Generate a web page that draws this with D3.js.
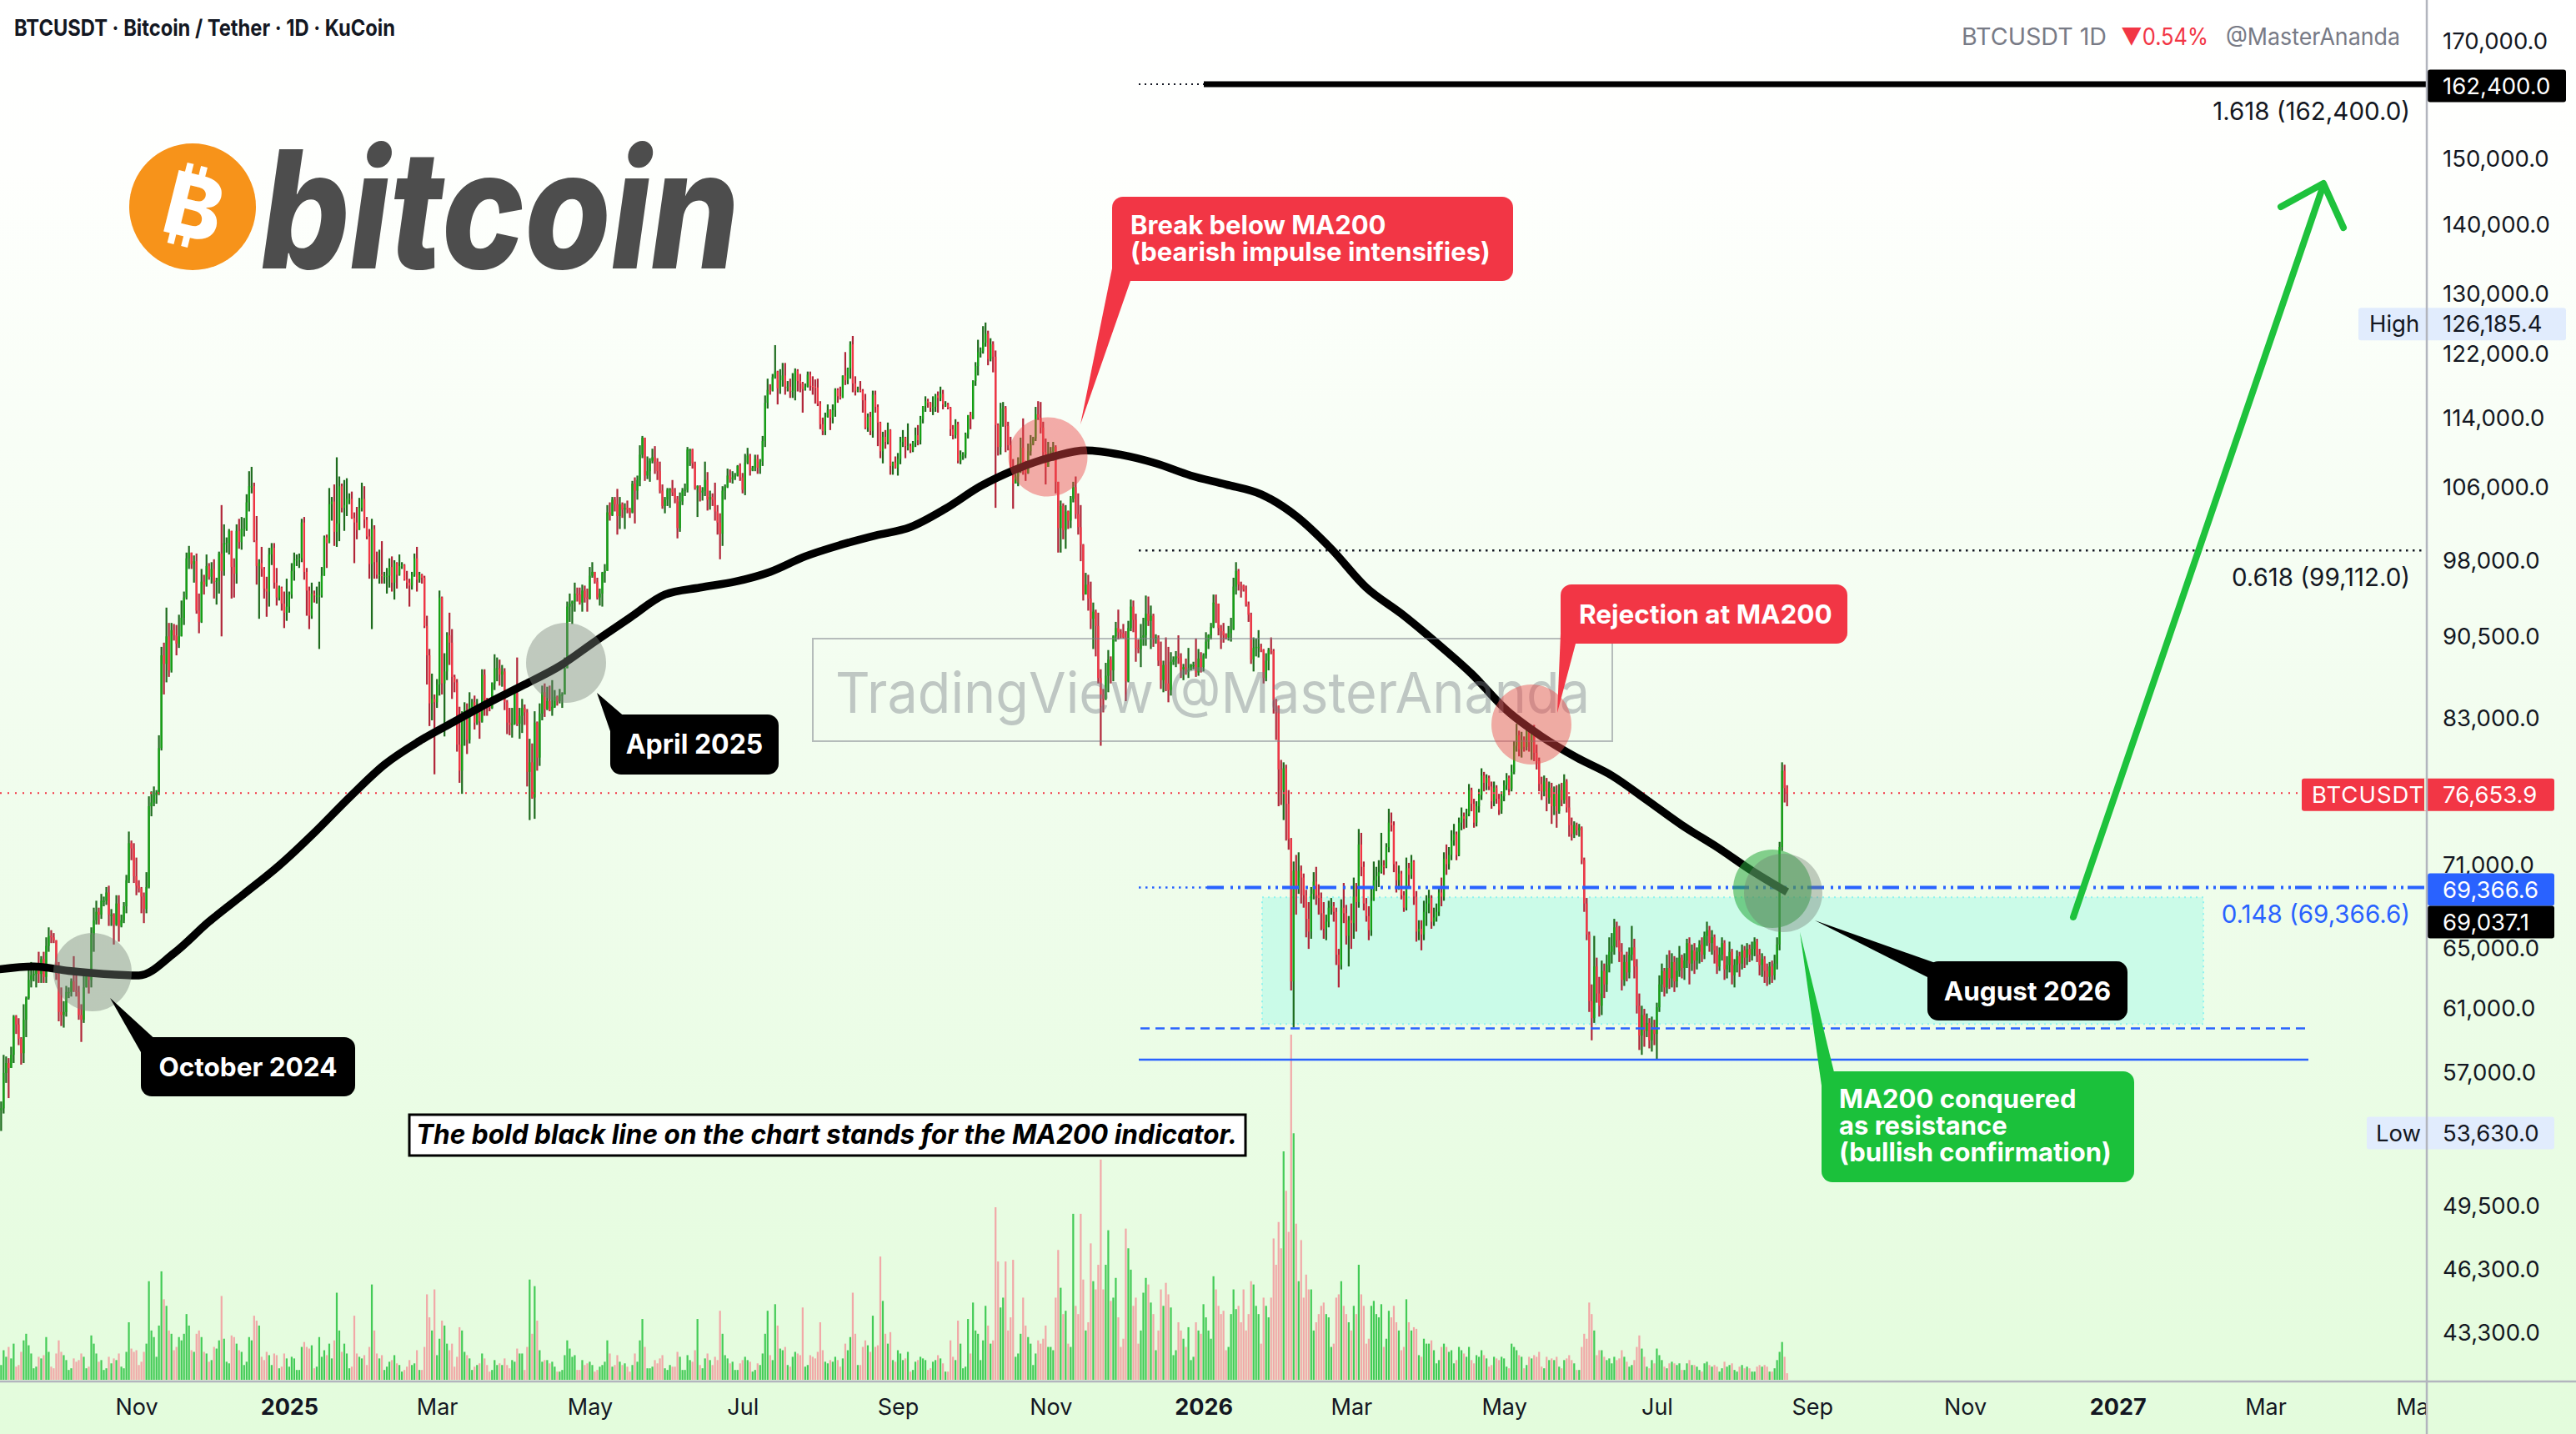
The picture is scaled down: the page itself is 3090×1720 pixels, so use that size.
<!DOCTYPE html>
<html>
<head>
<meta charset="utf-8">
<title>BTCUSDT 1D - MA200</title>
<script src="https://cdn.jsdelivr.net/npm/d3@7/dist/d3.min.js"></script>
<style>
html,body{margin:0;padding:0;overflow:hidden;background:#fff}
svg{display:block}
text{font-family:Inter,"Noto Sans",Roboto,sans-serif}
</style>
</head>
<body>
<svg id="chart" width="3090" height="1720" viewBox="0 0 3090 1720"></svg>
<script>
// ================= DATA (prices in thousands of USDT, daily candles) =================
const firstDay = "2024-09-08";
const firstOpen = 54.8;
const closes = [
54.9,57.0,57.6,57.3,58.1,60.5,60.0,59.1,58.2,60.3,61.7,62.9,63.2,63.3,63.6,63.3,64.3,63.1,65.2,65.9,65.8,65.6,63.3,
60.8,60.6,60.8,62.1,62.1,62.8,62.2,62.1,60.6,60.3,62.4,63.2,62.9,66.0,67.0,67.6,67.4,68.4,68.4,69.0,67.4,67.4,66.7,68.2,66.6,67.0,68.0,69.9,72.7,72.3,70.2,
69.5,69.3,68.7,67.8,69.4,75.6,75.9,76.5,76.7,80.4,88.7,87.9,90.5,87.3,91.1,90.6,89.8,90.5,92.3,94.3,98.3,98.9,97.7,98.0,93.0,91.9,95.9,95.6,97.5,96.4,
97.2,95.9,96.0,98.8,97.0,99.9,99.9,101.2,97.4,96.7,101.2,100.0,101.4,101.4,104.3,106.1,106.1,100.2,97.5,97.8,97.2,95.2,94.9,98.7,99.4,95.8,94.3,95.3,93.7,92.8,93.4,
94.6,97.0,98.1,98.2,98.3,102.1,96.9,95.0,92.5,94.7,94.5,94.5,94.5,96.5,100.5,99.9,104.1,104.4,101.1,102.0,106.1,103.7,104.0,104.7,104.7,102.6,102.1,101.3,103.7,104.7,102.4,
100.6,97.7,101.4,97.9,96.6,96.6,96.5,96.5,96.5,97.4,95.8,97.8,96.6,97.5,97.6,96.1,95.8,95.5,96.6,98.3,96.1,96.6,96.3,91.5,88.7,84.3,84.7,84.4,
86.0,94.3,86.1,87.2,90.6,89.9,86.7,86.2,80.7,78.5,82.9,83.7,81.1,84.0,84.4,82.6,84.1,82.7,86.9,84.2,84.1,83.9,86.1,87.5,87.5,86.9,87.2,84.4,82.6,82.4,82.5,
85.2,82.5,83.2,83.9,83.5,78.4,79.2,76.3,82.6,79.6,83.4,85.3,83.8,84.5,83.7,84.0,84.9,84.5,85.1,85.1,87.5,93.4,93.7,93.9,94.7,94.6,93.8,95.0,94.3,94.2,
96.5,96.9,95.9,94.3,94.7,96.8,97.0,103.2,102.9,104.6,104.1,102.8,104.1,103.5,103.7,103.5,103.2,106.4,105.6,106.8,109.7,111.7,107.3,107.8,109.0,109.4,108.9,107.8,105.6,103.9,104.6,
105.7,105.8,105.4,104.7,101.5,104.4,105.6,105.7,110.3,110.3,108.7,105.9,106.1,105.4,105.6,106.8,104.6,104.9,104.6,103.3,102.1,100.9,105.6,106.0,107.3,106.9,107.1,107.3,108.4,107.1,
105.7,108.8,109.6,107.9,108.2,109.2,108.2,108.9,111.3,115.9,117.5,117.4,119.1,119.8,117.7,118.7,119.3,117.9,117.9,117.3,117.4,119.9,118.6,118.3,117.6,117.9,119.4,118.0,117.9,117.8,115.8,
113.3,112.5,114.2,115.0,114.1,115.0,117.5,116.7,116.5,119.3,118.7,120.2,123.3,118.3,117.4,117.5,117.4,116.2,112.9,114.2,112.5,116.9,115.4,113.5,110.1,111.8,111.2,112.6,108.4,108.8,108.2,
109.2,111.2,111.7,110.7,110.7,110.2,111.1,112.0,111.4,113.9,115.5,116.1,115.9,115.3,115.4,116.8,116.5,117.0,115.7,115.7,115.3,112.7,112.0,113.3,109.0,109.7,109.7,112.1,114.4,114.0,
118.6,120.5,122.3,122.4,123.5,124.7,121.4,123.3,121.7,113.2,110.6,115.2,115.3,113.1,110.8,108.2,106.4,107.2,108.7,110.5,108.5,107.6,110.1,111.0,111.6,114.5,114.1,112.9,110.0,108.3,109.6,
110.1,110.6,106.6,101.5,103.9,101.3,103.3,102.3,104.7,106.0,103.0,101.6,99.7,94.6,95.6,94.2,92.2,92.9,91.5,86.6,85.1,84.7,86.8,88.3,87.3,90.5,91.3,90.9,90.8,90.4,
86.3,91.3,93.4,92.1,89.4,89.3,90.4,90.6,92.7,92.0,92.5,90.3,90.4,88.2,86.4,87.8,86.1,85.5,88.1,88.3,88.6,88.5,87.4,87.6,87.2,87.3,87.8,87.8,87.1,88.4,87.6,
88.7,90.0,90.6,91.4,93.8,93.7,91.3,91.0,90.6,90.4,90.8,91.2,95.4,97.0,95.6,95.5,95.1,93.6,92.6,88.3,89.4,89.5,89.5,89.2,86.6,88.2,89.2,89.1,84.6,84.1,78.6,
76.9,78.7,75.8,73.0,62.8,70.6,69.3,70.6,70.1,68.8,67.1,66.2,68.9,69.8,68.8,68.6,67.5,66.4,66.9,67.9,68.0,67.6,64.6,63.9,67.9,67.5,65.9,67.0,
66.8,68.7,68.3,72.6,70.9,68.2,67.3,66.3,68.4,69.9,70.2,70.5,71.0,70.9,72.4,74.3,74.1,71.1,69.9,70.4,68.8,67.9,70.8,70.3,71.3,68.7,66.2,66.4,66.0,67.6,68.2,
68.6,66.9,67.2,67.6,69.0,68.7,71.5,71.1,71.8,72.9,73.4,71.8,74.3,74.8,74.6,75.0,76.9,75.8,74.3,75.6,76.5,78.1,77.5,77.9,77.2,76.0,77.1,76.2,75.3,76.4,
77.3,77.9,77.0,78.4,80.6,81.5,80.3,81.1,80.5,81.9,80.9,81.7,80.0,79.3,77.4,76.8,77.6,76.3,77.1,75.6,76.6,75.2,76.9,76.1,77.6,75.5,74.1,73.4,74.1,73.7,73.9,
71.4,68.2,66.0,61.5,60.4,63.8,62.0,61.2,63.5,62.6,63.9,64.8,65.2,66.5,65.6,64.8,62.9,64.1,63.4,64.6,65.1,63.8,61.2,59.3,60.6,59.6,60.1,59.0,59.8,59.4,
61.1,62.6,63.5,62.4,63.7,63.0,64.1,62.8,63.5,64.4,63.7,64.2,65.4,64.0,64.9,64.2,64.8,65.3,64.6,65.9,66.3,65.4,65.8,64.9,63.8,64.6,65.4,63.6,63.9,64.8,63.2,
63.9,64.5,64.0,64.9,64.4,65.0,64.6,65.0,65.5,64.6,63.9,64.3,63.5,63.1,63.8,63.2,64.0,65.3,72.4,78.5,77.07,76.6539
];
const highs = [
55.3,58.1,58.0,57.9,58.6,60.6,60.6,60.4,59.2,61.3,61.8,63.8,64.1,63.6,64.0,64.8,64.5,64.8,65.8,66.5,66.3,66.1,65.6,
64.1,62.4,61.5,62.5,62.4,63.0,64.5,63.2,62.5,61.3,63.4,63.5,63.3,66.5,67.9,68.4,67.9,68.9,68.7,69.4,69.5,67.8,67.5,68.8,68.8,67.4,68.3,70.3,73.6,72.9,72.7,
71.6,69.9,69.4,69.0,70.5,76.4,76.8,77.2,76.9,81.5,89.5,89.9,93.3,91.8,91.8,91.7,91.6,92.6,94.0,94.9,98.9,99.6,98.8,98.6,98.8,94.7,97.2,96.6,98.7,97.8,
97.9,98.2,96.3,99.0,104.0,101.9,100.5,101.4,101.2,98.3,101.9,102.5,102.7,102.6,105.2,107.8,108.3,106.5,102.8,98.2,99.5,97.4,96.4,99.4,99.9,99.9,97.3,95.5,95.4,94.9,96.2,
94.9,97.8,98.9,98.7,98.8,102.5,102.7,97.3,95.4,95.8,95.0,95.4,95.9,97.4,100.7,100.8,105.9,104.9,106.3,109.4,107.2,106.4,106.8,107.0,105.3,105.5,103.2,103.8,104.8,106.5,106.1,
102.7,101.4,102.5,101.8,99.0,99.2,100.1,96.9,97.3,98.3,98.5,98.1,97.9,98.7,97.9,97.7,97.0,96.2,96.9,98.8,99.5,96.9,96.7,96.5,92.5,89.3,87.0,85.1,
86.5,95.0,94.4,88.9,90.9,92.8,91.2,86.9,86.5,84.0,83.6,84.4,84.3,85.3,84.7,85.0,84.7,84.0,87.4,87.4,84.8,84.5,86.2,88.8,88.5,88.3,87.8,87.5,84.6,83.9,83.9,
85.5,88.5,83.9,84.7,84.2,83.8,81.2,80.8,83.6,82.7,84.3,85.9,86.1,85.8,85.9,86.4,85.5,85.0,85.6,85.3,88.5,93.9,94.7,94.0,95.8,95.3,95.3,95.6,95.5,95.2,
97.4,97.9,96.9,96.3,95.2,96.9,97.7,104.0,104.3,104.9,104.9,105.8,104.9,104.3,104.2,104.5,103.7,106.7,107.1,107.3,110.8,111.9,111.3,109.5,109.3,110.4,110.7,109.3,108.9,106.3,104.9,
105.9,105.9,106.8,105.9,105.0,105.4,105.9,106.4,110.6,110.4,110.4,108.9,106.2,106.2,106.0,108.9,107.7,105.6,105.3,106.5,104.0,103.1,106.1,106.3,108.1,108.0,107.8,107.6,108.5,108.7,
107.6,109.8,110.5,109.8,108.4,109.7,109.7,109.2,111.9,116.8,118.9,118.2,119.5,123.2,119.9,120.1,120.9,120.9,118.6,118.9,119.6,120.2,120.1,119.5,118.5,118.3,119.8,119.8,119.2,118.8,118.9,
116.1,114.1,114.7,115.7,115.1,115.7,117.7,117.7,117.9,119.3,122.3,120.3,123.7,124.4,119.2,117.9,118.6,117.6,117.0,114.6,114.8,117.4,117.4,115.7,113.6,112.4,112.6,113.5,112.7,108.9,109.5,
109.9,111.8,112.6,111.8,113.4,111.0,111.3,112.9,113.2,114.3,115.5,116.7,116.4,116.0,116.7,117.0,117.3,117.9,117.5,116.1,115.9,115.4,113.2,113.9,113.6,110.2,110.0,112.3,114.4,114.8,
118.7,121.0,123.9,122.9,125.7,126.1854,125.1,124.1,123.7,122.5,113.4,115.9,116.0,115.5,113.6,111.8,109.2,107.5,109.4,111.7,114.0,109.0,111.0,112.0,111.8,115.4,116.1,116.0,113.6,111.6,111.2,
110.6,111.2,110.8,106.6,104.5,104.2,104.0,103.4,105.0,106.6,107.2,105.3,104.0,99.8,96.8,96.6,95.9,93.8,93.1,92.8,87.4,85.6,88.0,89.2,88.6,90.6,91.9,93.1,91.2,91.7,
91.0,92.0,94.1,94.0,92.7,90.2,91.7,92.3,94.5,94.4,93.5,92.7,90.7,90.6,90.0,88.2,90.4,89.5,89.0,88.6,89.1,90.6,88.9,87.9,88.4,89.4,87.9,88.1,90.3,89.3,89.0,
88.9,90.9,90.7,91.8,94.6,94.6,93.7,91.6,91.8,90.8,91.5,92.3,96.3,97.9,97.2,95.9,95.6,95.5,93.9,92.8,90.4,90.3,91.1,89.8,89.3,88.9,89.4,90.4,89.3,84.7,84.1,
79.4,79.2,79.0,76.9,73.1,71.3,71.8,72.0,71.0,70.4,69.2,68.3,69.4,70.5,70.9,69.6,69.0,68.3,67.4,68.4,68.6,68.3,67.9,65.0,68.5,69.7,68.1,67.3,
68.2,70.1,69.7,73.8,73.5,71.3,68.6,68.0,69.3,71.3,70.9,71.4,73.5,71.4,72.7,75.4,75.1,74.4,71.3,71.0,70.6,69.1,71.6,71.2,71.8,71.4,69.1,67.0,67.0,68.4,68.8,
69.2,68.8,67.9,68.2,69.3,70.1,72.0,72.6,72.4,73.7,74.2,73.6,74.7,75.5,75.1,75.4,77.4,77.1,76.2,76.0,77.0,78.7,78.4,78.2,78.1,77.6,77.6,77.3,76.6,76.8,
77.7,78.3,78.1,79.0,81.0,82.5,81.9,81.8,81.4,82.6,82.3,82.1,82.4,80.7,79.6,78.0,78.1,77.9,77.6,77.5,77.2,77.3,77.4,77.5,78.2,77.8,76.4,74.7,74.4,74.3,74.2,
74.0,71.6,68.6,66.2,62.6,65.9,64.4,63.1,64.2,64.0,64.6,65.8,66.1,67.1,66.9,66.6,65.4,64.6,64.8,65.1,66.6,65.7,64.3,62.0,61.2,61.0,60.7,60.4,60.5,60.3,
61.4,63.2,64.0,63.7,64.6,64.9,64.7,64.5,64.4,65.2,64.6,64.7,65.7,65.8,65.3,65.4,65.1,65.6,65.8,66.2,66.9,66.6,66.3,66.0,65.2,65.1,65.8,65.6,64.5,65.5,65.0,
64.3,64.9,64.8,65.3,65.2,65.4,65.3,65.5,65.8,65.7,65.0,64.7,64.5,64.0,64.1,64.2,64.6,65.8,72.8,79.2,79.0,77.3
];
const lows = [
53.6,54.6,56.4,55.5,57.3,57.6,59.4,58.7,57.5,57.6,59.2,61.6,62.4,62.8,62.4,62.7,62.7,62.7,62.7,64.8,65.4,65.4,62.9,
60.2,59.9,59.8,60.5,61.7,61.8,62.1,61.8,60.3,58.9,60.1,62.4,62.0,62.4,64.8,66.7,66.7,67.1,68.0,68.1,66.6,66.6,65.3,66.6,65.5,66.5,66.8,67.5,69.7,71.4,69.7,
68.8,69.0,67.5,66.8,67.5,69.3,74.8,75.6,75.8,76.5,80.2,85.1,86.2,86.7,87.1,90.1,88.7,89.4,90.8,91.6,94.1,97.2,97.2,95.8,92.7,90.8,91.8,94.6,95.4,96.1,
95.7,94.2,93.6,94.7,90.5,96.5,98.9,98.7,94.2,94.3,95.7,99.3,99.2,100.6,101.2,103.3,105.3,100.0,95.6,92.2,96.4,94.2,92.4,93.4,97.6,95.2,93.5,94.0,93.0,91.3,92.0,
92.8,94.2,96.0,97.5,97.3,97.9,96.1,92.5,91.2,92.2,93.8,93.7,89.3,94.3,96.5,97.3,99.9,102.3,99.6,99.5,100.1,103.2,101.2,102.8,104.1,102.5,97.8,100.3,101.3,103.3,101.5,
100.3,96.2,91.2,96.2,96.2,95.7,95.7,95.7,94.7,95.3,94.9,94.1,95.2,96.5,97.2,96.0,95.2,93.4,95.1,96.4,94.9,95.8,95.7,91.3,86.0,82.3,82.8,78.2,
83.9,85.0,85.1,81.4,86.4,87.8,84.7,85.3,80.1,77.5,76.6,80.6,79.9,80.8,83.6,82.0,82.4,81.2,82.6,83.2,83.2,83.6,83.8,85.5,86.3,85.9,85.8,83.7,81.6,81.5,81.3,
82.4,82.3,81.2,81.7,82.4,77.2,74.5,76.2,74.6,78.5,78.9,82.8,83.1,83.7,83.6,83.2,83.9,84.1,84.3,83.9,85.1,87.6,91.9,91.7,92.9,93.9,93.6,92.9,93.8,92.9,
94.1,96.3,95.7,94.1,93.5,93.4,95.8,97.0,102.3,102.8,103.3,100.8,101.4,102.6,101.4,103.1,102.6,103.1,102.0,104.6,106.1,109.3,106.7,106.9,106.6,108.7,107.5,106.8,105.3,103.6,103.1,
103.9,103.7,105.0,104.2,100.4,101.1,104.0,105.0,105.4,108.4,108.1,105.7,102.7,104.4,104.5,105.0,103.4,103.5,103.9,102.3,100.8,98.2,99.6,104.6,105.9,106.5,106.4,106.8,107.2,106.7,
105.3,105.1,108.6,107.3,107.8,107.8,107.5,107.5,108.4,110.6,115.2,116.9,117.3,118.9,115.7,117.0,117.9,116.9,117.3,116.5,116.5,116.2,117.3,117.2,114.7,117.4,117.8,117.4,116.9,115.8,115.5,
112.7,112.0,112.0,114.1,112.6,113.4,114.2,115.9,116.3,116.5,118.1,118.2,118.9,117.2,116.8,117.2,117.2,114.7,112.7,112.4,112.0,111.7,114.7,110.7,109.3,108.7,110.4,110.9,107.4,107.4,108.1,
107.3,108.6,110.6,109.3,110.2,109.9,110.0,110.6,110.8,110.9,113.4,114.8,115.3,114.8,114.4,114.8,114.7,116.1,115.1,115.4,115.1,111.9,111.5,111.6,108.7,108.6,109.1,109.3,111.6,112.7,
113.9,118.0,119.3,121.6,122.1,123.0,120.6,121.1,119.7,103.7,109.6,109.7,113.0,110.0,110.2,107.5,103.6,106.4,106.1,107.6,107.4,106.7,107.5,109.6,110.8,111.3,113.8,112.2,109.2,106.3,108.6,
109.4,109.0,105.3,98.9,98.9,100.3,99.3,101.4,101.5,104.3,102.5,100.8,98.0,94.0,94.6,93.0,91.2,89.3,88.6,86.1,80.6,83.5,84.6,85.3,86.1,86.3,90.0,90.2,90.3,90.3,
84.5,86.2,91.0,90.9,88.1,88.9,87.6,89.6,89.6,91.5,89.3,89.5,89.8,87.7,85.6,85.3,85.4,84.4,85.0,87.8,87.6,87.9,86.6,86.4,86.9,86.6,87.3,87.4,86.7,86.8,87.1,
87.2,88.4,89.3,90.2,91.3,91.8,90.6,89.3,89.9,90.2,90.1,90.0,91.1,94.6,95.0,94.3,94.9,93.4,91.9,87.9,87.2,88.6,88.5,89.0,86.1,86.3,87.3,88.8,83.4,81.1,75.6,
75.7,74.5,72.9,72.2,62.2,59.8,67.4,68.9,68.2,67.9,65.8,65.0,65.7,68.5,68.1,67.4,66.3,65.7,65.6,66.5,67.4,66.9,63.9,62.4,63.6,66.8,65.3,63.8,
65.0,65.7,66.2,67.9,70.2,67.7,66.9,65.6,65.9,68.8,69.1,69.4,70.4,70.3,70.8,72.0,73.6,70.5,69.0,69.2,68.5,67.6,67.7,69.4,70.0,68.1,65.5,65.6,64.9,65.6,66.6,
67.5,66.4,66.6,66.9,67.3,68.0,68.4,70.3,70.7,71.4,72.5,71.4,71.7,73.7,73.8,73.9,74.8,75.2,73.9,74.0,75.1,76.1,76.8,76.9,76.9,75.4,75.6,75.8,74.9,75.0,
76.0,76.9,76.5,76.8,78.2,80.1,79.7,79.6,80.1,80.2,80.1,79.4,79.3,78.6,76.8,76.1,76.4,75.2,75.8,74.2,74.9,73.9,75.0,75.6,75.8,75.1,73.2,72.9,73.1,73.3,73.2,
71.1,67.6,65.6,60.8,59.0,60.1,61.4,60.5,60.6,61.7,62.1,63.4,64.0,64.6,65.1,64.1,62.2,62.5,62.8,63.0,64.2,63.0,60.7,58.4,58.1,58.6,59.2,58.5,58.3,58.7,
57.8,60.8,62.1,61.8,62.0,62.3,62.4,62.1,62.4,63.1,63.0,62.9,63.7,62.6,63.5,63.3,63.6,64.0,64.1,64.3,65.2,64.8,64.6,64.0,63.3,63.5,64.2,62.9,63.0,63.4,62.6,
62.4,63.4,63.1,63.6,63.7,63.9,64.1,64.2,64.5,64.1,63.2,63.1,62.7,62.5,62.6,62.7,62.9,63.6,64.9,72.1,75.9,75.6
];
const volumes = [
9,18,14,20,13,22,8,9,17,24,28,21,16,7,8,14,13,15,26,17,8,7,16,
24,17,15,12,6,7,13,11,12,16,14,7,8,27,22,16,11,12,6,7,14,10,13,12,16,8,7,17,35,19,17,
18,9,11,17,22,60,30,26,14,33,66,49,45,30,28,18,20,26,24,28,40,33,18,17,28,30,26,17,16,11,
12,20,19,24,51,25,11,10,27,26,22,18,17,9,11,26,24,39,36,33,14,12,17,15,9,16,15,7,8,16,13,
8,14,13,6,6,20,23,20,19,21,7,8,26,14,18,15,22,13,24,53,30,17,22,16,7,8,39,16,14,13,15,
9,20,58,30,16,13,15,6,8,11,12,15,10,9,5,6,8,12,9,10,18,6,6,20,52,38,30,55,
15,25,36,33,22,18,22,8,14,32,30,17,15,13,6,8,9,10,16,13,9,5,6,12,9,10,9,13,9,7,12,
11,19,16,16,6,20,61,28,57,36,18,11,12,12,10,11,8,5,5,6,15,24,19,14,15,6,6,12,9,10,
11,9,5,6,8,9,11,24,16,8,9,15,11,9,10,8,5,9,16,11,24,37,20,7,7,8,12,10,13,15,7,
6,9,8,8,17,14,6,6,15,12,11,18,37,9,7,13,16,12,9,14,12,42,28,15,13,10,11,6,6,10,
12,14,12,11,5,6,10,9,16,28,42,15,12,46,33,19,18,20,9,8,14,17,16,15,44,8,9,15,14,13,17,
35,18,11,10,12,11,14,12,8,13,22,18,26,53,28,9,9,20,24,21,17,39,20,21,75,48,28,22,29,12,11,
18,16,12,13,17,5,6,11,12,14,13,12,6,7,11,12,15,13,10,5,5,24,14,12,36,22,7,8,37,16,
47,30,28,12,24,45,33,22,24,105,72,44,50,72,30,38,73,14,16,28,50,33,26,22,9,16,24,22,25,33,20,
20,18,50,79,56,40,42,22,20,101,45,40,101,61,30,35,83,60,55,70,134,55,70,91,48,50,62,38,20,25,
92,80,67,45,50,22,30,53,62,58,47,40,18,30,55,45,59,52,44,15,18,35,30,25,20,32,12,14,35,30,28,
46,38,30,25,63,55,45,40,42,18,20,40,55,43,45,35,55,30,40,60,58,45,40,22,50,45,38,50,86,70,96,
80,139,115,90,210,150,95,60,85,50,64,55,55,30,35,40,45,47,40,38,20,22,50,52,60,45,40,35,
30,45,40,70,52,45,22,25,45,48,40,38,46,20,25,42,38,45,35,30,18,20,49,35,30,32,31,15,14,25,22,
22,24,18,10,12,20,22,20,17,18,10,12,20,18,16,14,20,12,10,15,14,18,15,13,8,9,14,13,12,14,
13,8,7,22,20,18,15,14,7,9,14,13,15,14,17,8,7,14,12,13,12,14,8,7,12,13,15,12,10,6,6,
20,28,25,47,40,30,15,18,18,14,12,13,10,14,12,13,18,14,11,8,9,12,20,27,19,14,8,7,12,10,
19,15,12,8,7,10,11,10,9,10,6,6,10,12,9,9,8,6,5,10,11,9,8,9,8,5,7,11,8,9,10,
6,5,8,9,7,8,7,5,5,8,9,8,9,8,5,5,7,12,17,23,14,4
];
// MA200 indicator values, one every 14 days from maFirstDay
const maFirstDay = "2024-09-07";
const maStepDays = 14;
const ma200 = [
63.6,63.8,63.5,63.3,63.2,64.7,66.9,68.9,71.0,73.5,76.3,79.0,81.0,82.7,84.4,86.0,87.7,90.0,92.3,94.6,
95.3,95.9,96.9,98.5,99.7,100.7,101.6,103.6,106.1,108.0,109.4,110.2,109.7,108.7,107.3,106.3,105.2,102.8,99.3,95.3,
92.7,89.9,87.0,83.7,81.4,79.6,78.1,76.1,74.1,72.4,70.6,69.0371
];
const priceTicks = [170,150,140,130,122,114,106,98,90.5,83,71,65,61,57,49.5,46.3,43.3];
const timeTickDates = ["2024-11-01","2025-01-01","2025-03-01","2025-05-01","2025-07-01","2025-09-01","2025-11-01","2026-01-01","2026-03-01","2026-05-01","2026-07-01","2026-09-01","2026-11-01","2027-01-01","2027-03-01","2027-05-01"];
const timeTickLabels = ["Nov","2025","Mar","May","Jul","Sep","Nov","2026","Mar","May","Jul","Sep","Nov","2027","Mar","May"];
const fibRatios = [1.618, 0.618, 0.148];
const fibPrices = [162.4, 99.112, 69.3666];
const maLastValue = 69.0371;
const highValue = 126.1854;
const lowValue = 53.63;
const supportDashed = 59.75;
const supportSolid = 57.8;
const rangeBox = [60.03, 68.65];

// ================= SETUP =================
const W = 3090, H = 1720, PR = 2911, AX = 1657, VB = 1655;
const svg = d3.select("#chart");
const parse = d3.utcParse("%Y-%m-%d");
const x = d3.scaleUtc().domain([parse("2024-11-01"), parse("2027-01-01")]).range([163.6, 2540.3]);
const y = d3.scaleLog().domain([43.3, 170]).range([1598.2, 49.3]);
const yv = d3.scaleLinear().domain([0, 210]).range([VB, VB - 414]);
const fmt = d3.format(",.1f");
const money = v => fmt(v * 1000);
const FONT = "Inter, 'Noto Sans', Roboto, sans-serif";
const AXF = 27.5;

const day0 = parse(firstDay);
const candles = closes.map((c, i) => ({
  t: d3.utcDay.offset(day0, i), o: i ? closes[i - 1] : firstOpen,
  h: highs[i], l: lows[i], c: c, v: volumes[i]
}));
const lastC = candles[candles.length - 1];
const changePct = (lastC.c - lastC.o) / lastC.o * 100;

const defs = svg.append("defs");
const grad = defs.append("linearGradient").attr("id", "bg").attr("x1", 0).attr("y1", 0).attr("x2", 0).attr("y2", 1);
[["0%", "#ffffff"], ["12%", "#fefffd"], ["50%", "#f2fdef"], ["100%", "#e3fcdc"]].forEach(s =>
  grad.append("stop").attr("offset", s[0]).attr("stop-color", s[1]));
defs.append("clipPath").attr("id", "plotClip").append("rect").attr("x", 0).attr("y", 0).attr("width", PR).attr("height", AX);
defs.append("clipPath").attr("id", "xClip").append("rect").attr("x", 0).attr("y", AX).attr("width", PR).attr("height", H - AX);

svg.append("rect").attr("width", W).attr("height", H).attr("fill", "url(#bg)");

const plot = svg.append("g").attr("clip-path", "url(#plotClip)");

// range box (cyan)
plot.append("rect").attr("x", 1514).attr("width", 2643 - 1514)
  .attr("y", y(rangeBox[1])).attr("height", y(rangeBox[0]) - y(rangeBox[1]))
  .attr("fill", "#c6fbe8").attr("fill-opacity", 0.9)
  .attr("stroke", "#8ff3ee").attr("stroke-width", 2).attr("stroke-dasharray", "2,5");

// volume
plot.append("g").selectAll("rect").data(candles).join("rect")
  .attr("x", d => x(d.t) - 1.1).attr("width", 2.2)
  .attr("y", d => yv(d.v)).attr("height", d => VB - yv(d.v))
  .attr("fill", d => d.c >= d.o ? "#2cc443" : "#f29c9f").attr("fill-opacity", 0.88);

// candles
const gC = plot.append("g");
gC.selectAll("rect.w").data(candles).join("rect").attr("class", "w")
  .attr("x", d => x(d.t) - 1.1).attr("width", 2.2)
  .attr("y", d => y(Math.max(d.h, d.o, d.c)))
  .attr("height", d => Math.max(1, y(Math.min(d.l, d.o, d.c)) - y(Math.max(d.h, d.o, d.c))))
  .attr("fill", d => d.c >= d.o ? "#1e6c1e" : "#b12639");
gC.selectAll("rect.b").data(candles).join("rect").attr("class", "b")
  .attr("x", d => x(d.t) - 1.1).attr("width", 2.2)
  .attr("y", d => y(Math.max(d.o, d.c)))
  .attr("height", d => Math.max(1.5, y(Math.min(d.o, d.c)) - y(Math.max(d.o, d.c))))
  .attr("fill", d => d.c >= d.o ? "#14a114" : "#f23645");

// horizontal levels
const hl = (x0, x1, yy, color, w, dash) => {
  const l = plot.append("line").attr("x1", x0).attr("x2", x1).attr("y1", yy).attr("y2", yy)
    .attr("stroke", color).attr("stroke-width", w);
  if (dash) l.attr("stroke-dasharray", dash);
  return l;
};
hl(0, 2761, y(lastC.c), "#f23645", 2, "2,7");
hl(1366, 1444, y(fibPrices[0]), "#131722", 2, "2,5");
hl(1444, PR, y(fibPrices[0]), "#000", 7);
hl(1366, PR, y(fibPrices[1]), "#131722", 2.5, "2.5,5.5");
hl(1366, 1448, y(fibPrices[2]), "#2962ff", 2.5, "2.5,5.5");
hl(1448, PR, y(fibPrices[2]), "#2962ff", 4, "20,8,3,6,3,5");
hl(1368, 2769, y(supportDashed), "#2962ff", 2.5, "11,7");
hl(1366, 2769, y(supportSolid), "#2962ff", 2.5);

// MA200 line
const maDay0 = parse(maFirstDay);
const maPts = ma200.map((v, i) => ({ t: d3.utcDay.offset(maDay0, i * maStepDays), v }));
plot.append("path").datum(maPts)
  .attr("d", d3.line().x(d => x(d.t)).y(d => y(d.v)).curve(d3.curveMonotoneX))
  .attr("fill", "none").attr("stroke", "#000").attr("stroke-width", 9.5).attr("stroke-linejoin", "round");

// watermark
svg.append("rect").attr("x", 975).attr("y", 766).attr("width", 959).attr("height", 123)
  .attr("fill", "none").attr("stroke", "rgba(120,123,134,0.5)").attr("stroke-width", 2);
svg.append("text").attr("x", 1002).attr("y", 855).attr("font-size", 68).attr("font-family", FONT)
  .attr("textLength", 905).attr("lengthAdjust", "spacingAndGlyphs")
  .attr("fill", "rgba(120,123,134,0.42)").text("TradingView @MasterAnanda");

// circles
const circles = [
  [111, 1166, 47, "rgba(120,128,120,0.42)"],
  [679, 795, 48, "rgba(120,128,120,0.42)"],
  [1257, 548, 47.5, "rgba(235,70,70,0.45)"],
  [1837, 869, 48, "rgba(235,70,70,0.45)"],
  [2126, 1066, 47, "rgba(40,170,60,0.55)"],
  [2139, 1071, 47, "rgba(110,120,110,0.38)"]
];
svg.append("g").selectAll("circle").data(circles).join("circle")
  .attr("cx", d => d[0]).attr("cy", d => d[1]).attr("r", d => d[2]).attr("fill", d => d[3]);

// green arrow
const gA = svg.append("g").attr("stroke", "#1ec23c").attr("stroke-width", 8).attr("stroke-linecap", "round")
  .attr("stroke-linejoin", "round").attr("fill", "none");
gA.append("line").attr("x1", 2487).attr("y1", 1100).attr("x2", 2787).attr("y2", 222);
gA.append("polyline").attr("points", "2736,248 2787,220 2811,273");

// callouts
const callouts = [
  { box: [1334, 236, 1815, 337], fill: "#f23645", wedge: [[1296, 509], [1334, 322], [1356, 337]],
    lines: ["Break below MA200", "(bearish impulse intensifies)"], tx: 1356, ty: [280.5, 313], size: 31, anchor: "start" },
  { box: [1872, 701, 2216, 772], fill: "#f23645", wedge: [[1868, 855], [1872, 760], [1890, 772]],
    lines: ["Rejection at MA200"], tx: 1894, ty: [748], size: 31.5, anchor: "start" },
  { box: [169, 1244, 426, 1315], fill: "#000", wedge: [[132, 1197], [190, 1250], [169, 1262]],
    lines: ["October 2024"], tx: 297.5, ty: [1291], size: 31.5, anchor: "middle" },
  { box: [732, 857, 934, 929], fill: "#000", wedge: [[716, 831], [752, 862], [732, 877]],
    lines: ["April 2025"], tx: 833, ty: [904], size: 32, anchor: "middle" },
  { box: [2312, 1153, 2552, 1224], fill: "#000", wedge: [[2177, 1104], [2330, 1158], [2312, 1172]],
    lines: ["August 2026"], tx: 2432, ty: [1200], size: 31.5, anchor: "middle" },
  { box: [2185, 1285, 2560, 1418], fill: "#1bc13b", wedge: [[2159, 1118], [2201, 1290], [2185, 1302]],
    lines: ["MA200 conquered", "as resistance", "(bullish confirmation)"], tx: 2206, ty: [1329, 1361, 1393], size: 31, anchor: "start" }
];
const gCall = svg.append("g");
callouts.forEach(c => {
  const g = gCall.append("g");
  g.append("polygon").attr("points", c.wedge.map(p => p.join(",")).join(" ")).attr("fill", c.fill);
  g.append("rect").attr("x", c.box[0]).attr("y", c.box[1]).attr("width", c.box[2] - c.box[0])
    .attr("height", c.box[3] - c.box[1]).attr("rx", 13).attr("fill", c.fill);
  c.lines.forEach((s, i) => g.append("text").attr("x", c.tx).attr("y", c.ty[i]).attr("font-size", c.size)
    .attr("font-weight", 700).attr("font-family", FONT).attr("fill", "#fff").attr("text-anchor", c.anchor).text(s));
});

// note box
svg.append("rect").attr("x", 491).attr("y", 1337).attr("width", 1003).attr("height", 49)
  .attr("fill", "#fff").attr("stroke", "#000").attr("stroke-width", 3);
svg.append("text").attr("x", 499).attr("y", 1372).attr("font-size", 33).attr("font-weight", 700)
  .attr("font-style", "italic").attr("font-family", FONT).attr("fill", "#000")
  .attr("textLength", 985).attr("lengthAdjust", "spacingAndGlyphs")
  .text("The bold black line on the chart stands for the MA200 indicator.");

// bitcoin logo
const logo = svg.append("g");
logo.append("circle").attr("cx", 231).attr("cy", 248).attr("r", 76).attr("fill", "#f7931a");
const sym = logo.append("g").attr("transform", "translate(231,248) rotate(14)");
sym.append("text").attr("x", 2).attr("y", 37).attr("text-anchor", "middle").attr("font-size", 104)
  .attr("font-weight", 800).attr("font-family", "'Open Sans', Inter, sans-serif").attr("fill", "#fff").text("B");
[[-19, -50], [-2, -50], [-19, 34], [-2, 34]].forEach(p =>
  sym.append("rect").attr("x", p[0]).attr("y", p[1]).attr("width", 8).attr("height", 15).attr("fill", "#fff"));
logo.append("text").attr("x", 313).attr("y", 322).attr("font-size", 197).attr("font-weight", 800)
  .attr("font-style", "italic").attr("font-family", "'Open Sans', 'Noto Sans', sans-serif")
  .attr("textLength", 574).attr("lengthAdjust", "spacingAndGlyphs").attr("fill", "#4d4d4d").text("bitcoin");

// title + legend
svg.append("text").attr("x", 17).attr("y", 43).attr("font-size", 27).attr("font-weight", 700)
  .attr("font-family", FONT).attr("fill", "#131722").attr("textLength", 457).attr("lengthAdjust", "spacingAndGlyphs")
  .text("BTCUSDT · Bitcoin / Tether · 1D · KuCoin");
const leg = [
  [2353, 174, "#787b86", "BTCUSDT 1D"],
  [2544, 105, "#f23645", (changePct < 0 ? "▼" : "▲") + Math.abs(changePct).toFixed(2) + "%"],
  [2670, 209, "#787b86", "@MasterAnanda"]
];
leg.forEach(l => svg.append("text").attr("x", l[0]).attr("y", 54).attr("font-size", 28).attr("font-family", FONT)
  .attr("fill", l[2]).attr("textLength", l[1]).attr("lengthAdjust", "spacingAndGlyphs").text(l[3]));

// fib labels
const fibColors = ["#131722", "#131722", "#2962ff"];
const fibBase = [144, 703, 1107];
fibRatios.forEach((r, i) => svg.append("text").attr("x", 2891).attr("y", fibBase[i]).attr("text-anchor", "end")
  .attr("font-size", 29.5).attr("font-family", FONT).attr("fill", fibColors[i])
  .text(r.toFixed(3) + " (" + money(fibPrices[i]) + ")"));

// axes
const xAxis = d3.axisBottom(x).tickValues(timeTickDates.map(parse))
  .tickFormat((d, i) => timeTickLabels[i]).tickSize(0).tickPadding(21);
const gx = svg.append("g").attr("clip-path", "url(#xClip)").append("g")
  .attr("transform", `translate(0,${AX})`).call(xAxis);
gx.select(".domain").remove();
gx.selectAll("text").attr("font-size", 27).attr("font-family", FONT).attr("fill", "#131722")
  .attr("font-weight", (d, i) => /^\d{4}$/.test(timeTickLabels[i]) ? 700 : 400);

const yAxis = d3.axisRight(y).tickValues(priceTicks).tickFormat(money).tickSize(0).tickPadding(19);
const gy = svg.append("g").attr("transform", `translate(${PR},0)`).call(yAxis);
gy.select(".domain").remove();
gy.selectAll("text").attr("font-size", AXF).attr("font-family", FONT).attr("fill", "#131722");

// axis value boxes
const axBox = (x0, x1, cy, fill, txt, col, label) => {
  const g = svg.append("g");
  g.append("rect").attr("x", x0).attr("y", cy - 19.5).attr("width", x1 - x0).attr("height", 39).attr("rx", 3).attr("fill", fill);
  g.append("text").attr("x", 2930).attr("y", cy).attr("dy", "0.35em").attr("font-size", AXF)
    .attr("font-family", FONT).attr("fill", col).text(txt);
  if (label) g.append("text").attr("x", label[0]).attr("y", cy).attr("dy", "0.35em").attr("font-size", AXF)
    .attr("font-family", FONT).attr("fill", col).attr("letter-spacing", label[2] || 0).text(label[1]);
};
axBox(2912, 3078, y(fibPrices[0]) + 2, "#000", money(fibPrices[0]), "#fff");
axBox(2829, 3078, y(highValue) + 2, "#e1ecfd", money(highValue), "#131722", [2842, "High"]);
axBox(2761, 3064, y(lastC.c) + 2, "#f23645", money(lastC.c), "#fff", [2773, "BTCUSDT", 1]);
svg.append("rect").attr("x", 2908).attr("y", y(lastC.c) - 18).attr("width", 4).attr("height", 39).attr("fill", "#e8fcdf");
axBox(2912, 3064, y(fibPrices[2]) + 2.5, "#2962ff", money(fibPrices[2]), "#fff");
axBox(2912, 3064, y(fibPrices[2]) + 41.5, "#000", money(maLastValue), "#fff");
axBox(2839, 3064, y(lowValue) + 3, "#e1ecfd", money(lowValue), "#131722", [2850, "Low"]);

// axis lines
svg.append("line").attr("x1", PR).attr("x2", PR).attr("y1", 0).attr("y2", H).attr("stroke", "#b2b5be").attr("stroke-width", 2.5);
svg.append("line").attr("x1", 0).attr("x2", W).attr("y1", AX).attr("y2", AX).attr("stroke", "#b2b5be").attr("stroke-width", 2.5);
</script>
</body>
</html>
